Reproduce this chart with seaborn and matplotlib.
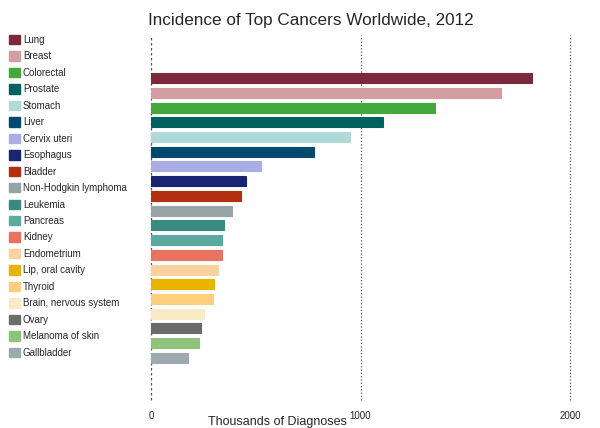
import pandas as pd
import seaborn as sns
import matplotlib.pyplot as plt
from matplotlib.patches import Patch

# cancer types, incidence in thousands (GLOBOCAN 2012)
cancers = ["Lung", "Breast", "Colorectal", "Prostate", "Stomach", "Liver",
           "Cervix uteri", "Esophagus", "Bladder", "Non-Hodgkin lymphoma",
           "Leukemia", "Pancreas", "Kidney", "Endometrium", "Lip, oral cavity",
           "Thyroid", "Brain, nervous system", "Ovary", "Melanoma of skin",
           "Gallbladder"]
cases = [1817, 1671, 1356, 1107, 948, 778, 525, 453, 428, 385,
         350, 337, 337, 318, 299, 296, 255, 237, 231, 178]
colors = ["#7B2A3B", "#D39EA1", "#43A93A", "#00625F", "#B0DAD8", "#004A6E",
          "#A9ADE3", "#1A2470", "#B2300F", "#97A4A6", "#3A8A80", "#5AAAA0",
          "#E8735E", "#FBD1A0", "#EAB300", "#FED07E", "#F8EBC6", "#6B6B6B",
          "#8FC27A", "#9DAAAD"]
xticks = [0, 1000, 2000]

df = pd.DataFrame({"Cancer": cancers, "Cases": cases})
palette = dict(zip(cancers, colors))

sns.set_style("white")
plt.rcParams["font.family"] = ["Liberation Sans", "DejaVu Sans"]

fig = plt.figure(figsize=(6, 4.28), dpi=100)
ax = fig.add_axes([151 / 600, 1 - 400 / 428, 419 / 600, 365 / 428])

sns.barplot(data=df, y="Cancer", x="Cases", hue="Cancer", palette=palette,
            order=cancers, hue_order=cancers, orient="h", dodge=False,
            legend=False, width=0.68, linewidth=0.8, saturation=1, ax=ax)

# darker edge on every bar
for bar, c in zip(ax.patches, colors):
    bar.set_edgecolor(c)

for x in xticks:
    ax.axvline(x, color="#555555", linestyle=(0, (2, 2)) if x == 0 else ":",
               linewidth=0.9, zorder=0, clip_on=False)

ax.set_xlim(0, 2000)
ax.set_ylim(19 + 2.86, -2.93)
ax.set_xticks(xticks)
ax.set_xticklabels([str(x) for x in xticks], fontsize=7)
ax.tick_params(axis="x", length=0, pad=8)
ax.set_yticks([])
ax.set_ylabel("")
ax.set_xlabel("Thousands of Diagnoses", fontsize=9)
ax.xaxis.set_label_coords((277 - 151) / 419, -0.045)
sns.despine(ax=ax, left=True, bottom=True)

fig.suptitle("Incidence of Top Cancers Worldwide, 2012", x=311 / 600,
             y=1 - 20 / 428, va="center", fontsize=12.3)

handles = [Patch(facecolor=c, edgecolor=c, label=n) for n, c in zip(cancers, colors)]
fig.legend(handles=handles, loc="upper left", bbox_to_anchor=(0.009, 1 - 31 / 428),
           frameon=False, fontsize=7, handlelength=1.1, handleheight=1.1,
           handletextpad=0.3, labelspacing=0.665, borderaxespad=0)

fig.savefig("out.png", dpi=100)
